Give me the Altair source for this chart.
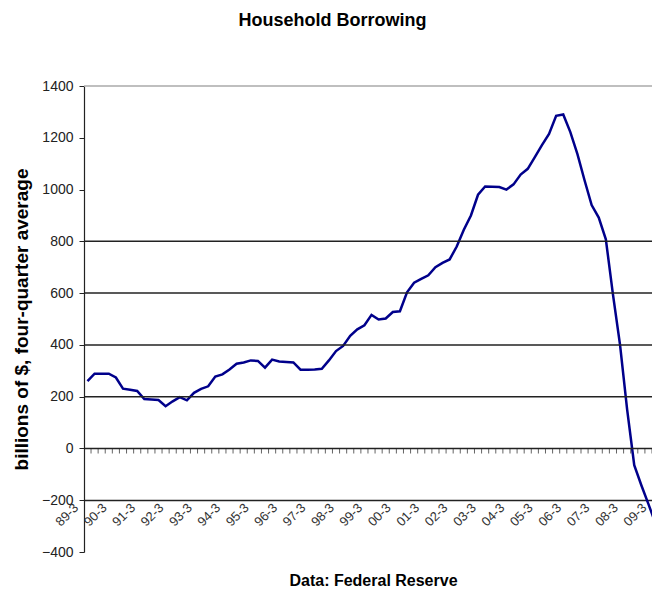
import altair as alt
import pandas as pd

title_text = "Household Borrowing"
y_title = "billions of $, four-quarter average"
source_text = "Data: Federal Reserve"

year_labels = ["89-3", "90-3", "91-3", "92-3", "93-3", "94-3", "95-3", "96-3",
               "97-3", "98-3", "99-3", "00-3", "01-3", "02-3", "03-3", "04-3",
               "05-3", "06-3", "07-3", "08-3", "09-3"]

# quarterly values, 89-3 .. 09-3
borrowing = [260, 289, 289, 289, 274, 231, 227, 222, 191, 189,
             187, 163, 182, 198, 186, 215, 230, 240, 278, 286,
             305, 327, 332, 340, 338, 312, 343, 336, 334, 332,
             304, 304, 305, 308, 340, 376, 396, 435, 460, 476,
             516, 498, 502, 527, 530, 603, 640, 655, 669, 700,
             717, 730, 780, 845, 900, 980, 1012, 1011, 1010, 1000,
             1020, 1058, 1080, 1125, 1172, 1215, 1285, 1290, 1222, 1137,
             1036, 940, 892, 808, 595, 400, 150, -65, -142, -215,
             -290]

grid_values = [0, 200, 400, 600, 800]
top_value = [1400]
y_ticks = list(range(-400, 1401, 200))
label_shift = -2.36   # year label text sits left of its quarter, Excel style
label_row = -200      # labels hang below the -200 line

df = pd.DataFrame({"q": list(range(len(borrowing))), "value": borrowing})
tick_df = pd.DataFrame({"q": [i + 0.5 for i in range(len(borrowing))]})
grid_df = pd.DataFrame({"value": grid_values})
top_df = pd.DataFrame({"value": top_value})
label_df = pd.DataFrame({
    "q": [4 * k + label_shift for k in range(len(year_labels))],
    "label": year_labels,
})

x_scale = alt.Scale(domain=[-0.49, 79.5], nice=False, zero=False)
y_scale = alt.Scale(domain=[-400, 1400], nice=False, zero=False)

x_axis = alt.Axis(
    labels=False, ticks=False, grid=False, offset=-52,
    domainColor="#222", domainWidth=1.5,
    title=source_text, titleFont="Liberation Sans",
    titleFontSize=16, titleFontWeight="bold", titleColor="#000",
    titleX=289, titleY=85, titleAlign="center", titleBaseline="alphabetic",
)

y_axis = alt.Axis(
    values=y_ticks, format="d", tickSize=5, tickColor="#222", domainColor="#222",
    domainWidth=1.2, labelFont="Liberation Sans", labelFontSize=14,
    labelColor="#222", labelPadding=6, labelFlush=False, labelOverlap=False,
    grid=False,
    title=y_title, titleFont="Liberation Sans", titleFontSize=19,
    titleFontWeight="bold", titleColor="#000", titlePadding=10,
)

line = alt.Chart(df).mark_line(color="#00008B", strokeWidth=2.5, clip=True).encode(
    x=alt.X("q:Q", scale=x_scale, axis=x_axis),
    y=alt.Y("value:Q", scale=y_scale, axis=y_axis),
)

grid = alt.Chart(grid_df).mark_rule(color="#222", strokeWidth=1.5).encode(
    y=alt.Y("value:Q", scale=y_scale, axis=y_axis)
)

top = alt.Chart(top_df).mark_rule(color="#aaa", strokeWidth=1.5).encode(
    y=alt.Y("value:Q", scale=y_scale, axis=y_axis)
)

ticks = alt.Chart(tick_df).mark_tick(
    orient="vertical", size=5, thickness=1, color="#222", yOffset=2.5, clip=True
).encode(
    x=alt.X("q:Q", scale=x_scale, axis=x_axis),
    y=alt.Y(datum=0, type="quantitative", scale=y_scale, axis=y_axis),
)

labels = alt.Chart(label_df).mark_text(
    angle=315, align="right", baseline="top", dy=2,
    font="Liberation Sans", fontSize=13, color="#333",
).encode(
    x=alt.X("q:Q", scale=x_scale, axis=x_axis),
    y=alt.Y(datum=label_row, type="quantitative", scale=y_scale, axis=y_axis),
    text="label:N",
)

chart = alt.layer(line, top, grid, ticks, labels).properties(
    width=568, height=466,
    padding={"left": 76, "top": 78, "right": 0, "bottom": 35},
    autosize=alt.AutoSizeParams(type="none"),
    background="white",
    title=alt.TitleParams(
        text=title_text, font="Liberation Sans",
        fontSize=18, fontWeight="bold", color="#000", anchor="middle",
        frame="bounds", offset=35, baseline="alphabetic",
    ),
).configure_view(stroke=None)

chart.save("out.html", embed_options={"renderer": "svg", "actions": False})
